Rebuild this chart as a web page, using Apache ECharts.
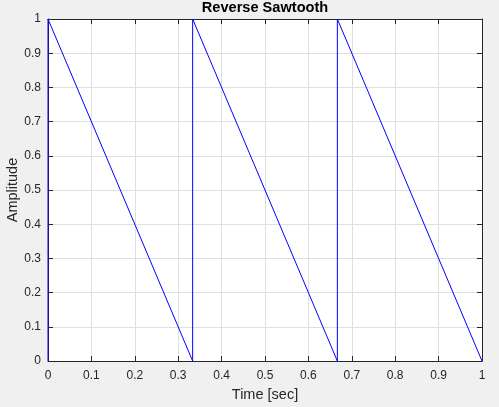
<!DOCTYPE html>
<html>
<head>
<meta charset="utf-8">
<script src="https://cdn.jsdelivr.net/npm/echarts@6/dist/echarts.min.js"></script>
<style>
  html, body { margin: 0; padding: 0; background: #f0f0f0; }
  #chart { width: 499px; height: 407px; }
</style>
</head>
<body>
<div id="chart"></div>
<script>
// reverse sawtooth, period 1/3 s
const timeSec = [0, 0, 0.3333, 0.3333, 0.6667, 0.6667, 1];
const amplitude = [0, 1, 0, 1, 0, 1, 0];
const tickStep = 0.1;

const points = timeSec.map((t, i) => [t, amplitude[i]]);
const font = "Liberation Sans, Arial, sans-serif";
const txt = "#262626";

const myChart = echarts.init(document.getElementById("chart"));

function axisBase(pos, showLabel) {
  return {
    type: "value",
    position: pos,
    min: 0,
    max: 1,
    interval: tickStep,
    axisLine: { show: true, onZero: false, lineStyle: { color: txt, width: 1 } },
    axisTick: { show: true, inside: true, length: 5, lineStyle: { color: txt } },
    splitLine: { show: showLabel, lineStyle: { color: "#dfdfdf", width: 1 } },
    axisLabel: {
      show: showLabel,
      color: txt,
      fontFamily: font,
      fontSize: 12,
      formatter: v => String(Math.round(v * 10) / 10)
    }
  };
}

const xBottom = axisBase("bottom", true);
xBottom.name = "Time [sec]";
xBottom.nameLocation = "middle";
xBottom.nameGap = 26;
xBottom.nameMoveOverlap = false;
xBottom.nameTextStyle = { color: txt, fontFamily: font, fontSize: 14.5 };
xBottom.axisLabel.margin = 9;

const yLeft = axisBase("left", true);
yLeft.name = "Amplitude";
yLeft.nameLocation = "middle";
yLeft.nameGap = 28;
yLeft.nameMoveOverlap = false;
yLeft.nameTextStyle = { color: txt, fontFamily: font, fontSize: 14.5 };
yLeft.axisLabel.margin = 7;

myChart.setOption({
  backgroundColor: "#f0f0f0",
  animation: false,
  title: {
    text: "Reverse Sawtooth",
    left: 265,
    textAlign: "center",
    top: 0,
    padding: 0,
    textStyle: { color: "#000", fontFamily: font, fontSize: 14.6, fontWeight: "bold" }
  },
  grid: {
    left: 48,
    right: 17,
    top: 19,
    bottom: 46,
    containLabel: false,
    outerBoundsMode: "none",
    show: true,
    backgroundColor: "#ffffff",
    borderWidth: 0
  },
  xAxis: [xBottom, axisBase("top", false)],
  yAxis: [yLeft, axisBase("right", false)],
  series: [
    {
      type: "line",
      data: points,
      showSymbol: false,
      lineStyle: { color: "#0000ff", width: 1 },
      xAxisIndex: 0,
      yAxisIndex: 0
    }
  ]
});
</script>
</body>
</html>
